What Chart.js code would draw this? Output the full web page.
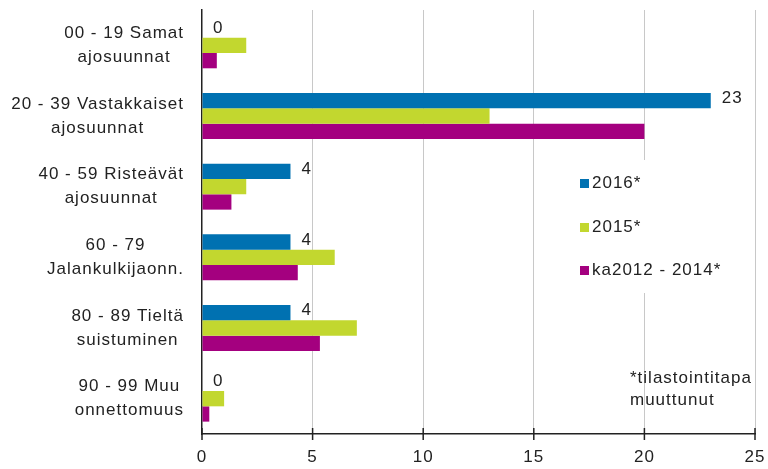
<!DOCTYPE html>
<html>
<head>
<meta charset="utf-8">
<script src="https://cdn.jsdelivr.net/npm/chart.js@4/dist/chart.umd.min.js"></script>
<style>
  html, body { margin: 0; padding: 0; background: #fff; }
  #wrap { width: 768px; height: 469px; position: relative; }
</style>
</head>
<body>
<div id="wrap"><canvas id="chart" width="768" height="469"></canvas></div>
<script>
const categories = [
    ['00 - 19 Samat', 'ajosuunnat'],
    ['20 - 39 Vastakkaiset', 'ajosuunnat'],
    ['40 - 59 Risteävät', 'ajosuunnat'],
    ['60 - 79', 'Jalankulkijaonn.'],
    ['80 - 89 Tieltä', 'suistuminen'],
    ['90 - 99 Muu', 'onnettomuus']
];
const seriesNames = ['2016*', '2015*', 'ka2012 - 2014*'];
const values2016 = [0, 23, 4, 4, 4, 0];
const values2015 = [2, 13, 2, 6, 7, 1];
const valuesAvg = [0.67, 20, 1.33, 4.33, 5.33, 0.33];
const xTicks = [0, 5, 10, 15, 20, 25];
const note = ['*tilastointitapa', 'muuttunut'];

const colors = ['#0071B1', '#C2D72F', '#A4007F'];
const FONT = '"Liberation Sans", Arial, sans-serif';
const textColor = '#222';
const SPACING = '1px';

function setText(ctx) {
    ctx.font = '17px ' + FONT;
    ctx.fillStyle = textColor;
    ctx.letterSpacing = SPACING;
}

// y labels: block right-aligned, lines centered to each other
const yLabelsPlugin = {
    id: 'yLabels',
    afterDraw(chart) {
        const ctx = chart.ctx;
        const y = chart.scales.y;
        ctx.save();
        setText(ctx);
        ctx.textAlign = 'center';
        ctx.textBaseline = 'middle';
        const right = chart.chartArea.left - 18;
        categories.forEach((lines, i) => {
            const cy = y.getPixelForValue(i);
            const w = Math.max(...lines.map(l => ctx.measureText(l).width));
            const lh = 24;
            lines.forEach((l, j) => {
                ctx.fillText(l, right - w / 2, cy + (j - (lines.length - 1) / 2) * lh);
            });
        });
        ctx.restore();
    }
};

// x tick marks crossing the axis + x labels
const xAxisPlugin = {
    id: 'xAxis',
    afterDraw(chart) {
        const ctx = chart.ctx;
        const x = chart.scales.x;
        const base = chart.chartArea.bottom;
        ctx.save();
        ctx.strokeStyle = '#222';
        ctx.lineWidth = 1.5;
        setText(ctx);
        ctx.textAlign = 'center';
        ctx.textBaseline = 'middle';
        xTicks.forEach(v => {
            const px = x.getPixelForValue(v);
            ctx.beginPath();
            ctx.moveTo(px, base - 6);
            ctx.lineTo(px, base + 6);
            ctx.stroke();
            ctx.fillText(String(v), px, base + 23);
        });
        ctx.restore();
    }
};

// value labels for 2016 + legend + note
const extrasPlugin = {
    id: 'extras',
    afterDatasetsDraw(chart) {
        const ctx = chart.ctx;
        ctx.save();
        setText(ctx);
        ctx.textBaseline = 'middle';
        ctx.textAlign = 'left';
        chart.getDatasetMeta(0).data.forEach((bar, i) => {
            ctx.fillText(String(values2016[i]), bar.x + 11, bar.y - 2);
        });

        // legend with white background
        ctx.fillStyle = '#fff';
        ctx.fillRect(572, 160, 168, 133);
        const ly = [183, 227, 270];
        seriesNames.forEach((name, i) => {
            ctx.fillStyle = colors[i];
            ctx.fillRect(580, ly[i] - 4, 9, 9);
            ctx.fillStyle = textColor;
            ctx.fillText(name, 592, ly[i]);
        });

        note.forEach((l, i) => ctx.fillText(l, 630, 378 + i * 22));
        ctx.restore();
    }
};

new Chart(document.getElementById('chart'), {
    type: 'bar',
    data: {
        labels: categories.map(c => c.join(' ')),
        datasets: [
            { label: seriesNames[0], data: values2016, backgroundColor: colors[0] },
            { label: seriesNames[1], data: values2015, backgroundColor: colors[1] },
            { label: seriesNames[2], data: valuesAvg, backgroundColor: colors[2] }
        ]
    },
    options: {
        indexAxis: 'y',
        responsive: false,
        animation: false,
        categoryPercentage: 0.65,
        barPercentage: 1,
        layout: { padding: { top: 10, right: 13, left: 0, bottom: 0 } },
        plugins: { legend: { display: false }, tooltip: { enabled: false } },
        scales: {
            x: {
                min: 0,
                max: 25,
                afterFit(scale) { scale.height = 35; },
                afterBuildTicks(scale) { scale.ticks = xTicks.map(v => ({ value: v })); },
                grid: {
                    color: ctx => ctx.tick && ctx.tick.value === 0 ? 'rgba(0,0,0,0)' : '#c8c8c8',
                    drawTicks: false,
                    lineWidth: 1
                },
                border: { color: '#222', width: 1.5 },
                ticks: { display: false }
            },
            y: {
                afterFit(scale) { scale.width = 202; },
                grid: { display: false, drawTicks: false },
                border: { color: '#222', width: 1.5 },
                ticks: { display: false }
            }
        }
    },
    plugins: [yLabelsPlugin, xAxisPlugin, extrasPlugin]
});
</script>
</body>
</html>
